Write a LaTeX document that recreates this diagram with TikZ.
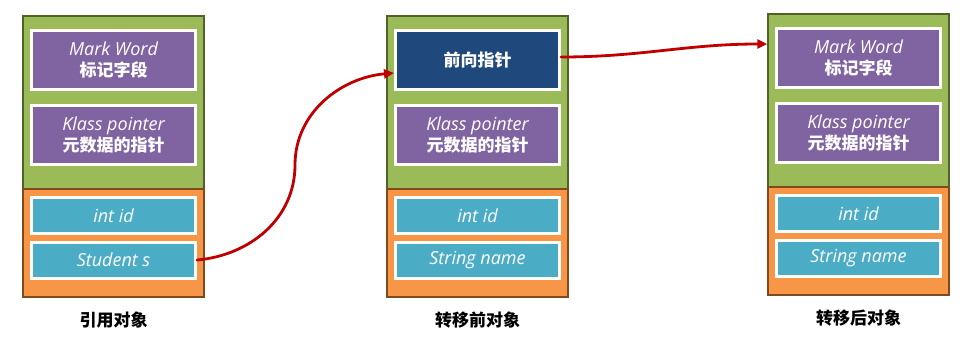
\documentclass[tikz,border=0pt]{standalone}
\usepackage{fontspec}
\setmainfont{Open Sans}
\newfontfamily\cjk{Noto Sans CJK SC}
\usetikzlibrary{arrows.meta, positioning, shadows}
\definecolor{hdrGreen}{HTML}{9BBB59}
\definecolor{hdrLine}{HTML}{4F6228}
\definecolor{bodyOrange}{HTML}{F79646}
\definecolor{bodyLine}{HTML}{7F4A1C}
\definecolor{fldPurple}{HTML}{8064A2}
\definecolor{fldTeal}{HTML}{4BACC6}
\definecolor{fldNavy}{HTML}{1F497D}
\definecolor{moveRed}{HTML}{C00000}
\tikzset{
  headpart/.style={draw=hdrLine, line width=1.5pt, fill=hdrGreen,
                   minimum width=181pt, minimum height=173pt, inner sep=0pt},
  bodypart/.style={draw=bodyLine, line width=1.5pt, fill=bodyOrange,
                   minimum width=181pt, minimum height=108pt, inner sep=0pt},
  field/.style={draw=white, line width=3pt, minimum width=164pt, inner sep=0pt,
                align=center, text=white,
                font=\fontsize{18}{21}\selectfont\itshape,
                drop shadow={shadow xshift=1.5pt, shadow yshift=-1.5pt,
                             opacity=0.3, fill=black}},
  metafield/.style={field, fill=fldPurple, minimum height=59pt},
  fwdfield/.style={field, fill=fldNavy, minimum height=59pt},
  datafield/.style={field, fill=fldTeal, minimum height=36pt},
  caption/.style={font=\cjk\bfseries\fontsize{17}{20}\selectfont},
  move/.style={draw=moveRed, line width=2.8pt, line cap=round,
               -{Triangle[length=10pt, width=9pt]}},
}
\newcommand{\zh}[1]{{\cjk\upshape\bfseries\fontsize{17}{21}\selectfont #1}}

\begin{document}
\begin{tikzpicture}[x=1pt, y=-1pt]
  \useasboundingbox (0,0) rectangle (966,338);
  % ================= referencing object =================
  \begin{scope}[xshift=23pt]
    \node[headpart] (head1) at (90.5,102.5) {};
    \node[bodypart] (body1) at (90.5,243) {};
    \node[metafield] (mw1) at (90.5,60) {Mark Word\\\zh{标记字段}};
    \node[metafield] (kp1) at (90.5,135) {Klass pointer\\\zh{元数据的指针}};
    \node[datafield] (id1) at (90.5,215.5) {int id};
    \node[datafield] (ss1) at (90.5,260) {Student s};
    \node[caption] (cap1) at (90.5,320) {引用对象};
  \end{scope}
  % ================= object before the move =================
  \begin{scope}[xshift=387pt]
    \node[headpart] (head2) at (90.5,102.5) {};
    \node[bodypart] (body2) at (90.5,243) {};
    \node[fwdfield] (fp2) at (90.5,60) {\zh{前向指针}};
    \node[metafield] (kp2) at (90.5,135) {Klass pointer\\\zh{元数据的指针}};
    \node[datafield] (id2) at (90.5,215.5) {int id};
    \node[datafield] (sn2) at (90.5,260) {String name};
    \node[caption] (cap2) at (90.5,320) {转移前对象};
  \end{scope}
  % ================= object after the move =================
  \begin{scope}[xshift=768pt, yshift=2pt]
    \node[headpart] (head3) at (90.5,102.5) {};
    \node[bodypart] (body3) at (90.5,243) {};
    \node[metafield] (mw3) at (90.5,60) {Mark Word\\\zh{标记字段}};
    \node[metafield] (kp3) at (90.5,135) {Klass pointer\\\zh{元数据的指针}};
    \node[datafield] (id3) at (90.5,215.5) {int id};
    \node[datafield] (sn3) at (90.5,260) {String name};
    \node[caption] (cap3) at (90.5,320) {转移后对象};
  \end{scope}
  % pointers
  \coordinate (bend1) at (295,165);
  \coordinate (tip3) at (head3.west |- 0,44);
  \draw[move] (ss1.east) to[out=5, in=-90] (bend1)
    to[out=90, in=185] ([yshift=-13pt]fp2.west);
  \draw[move] ([yshift=3pt]fp2.east) to[out=0, in=180] (tip3);
\end{tikzpicture}
\end{document}
